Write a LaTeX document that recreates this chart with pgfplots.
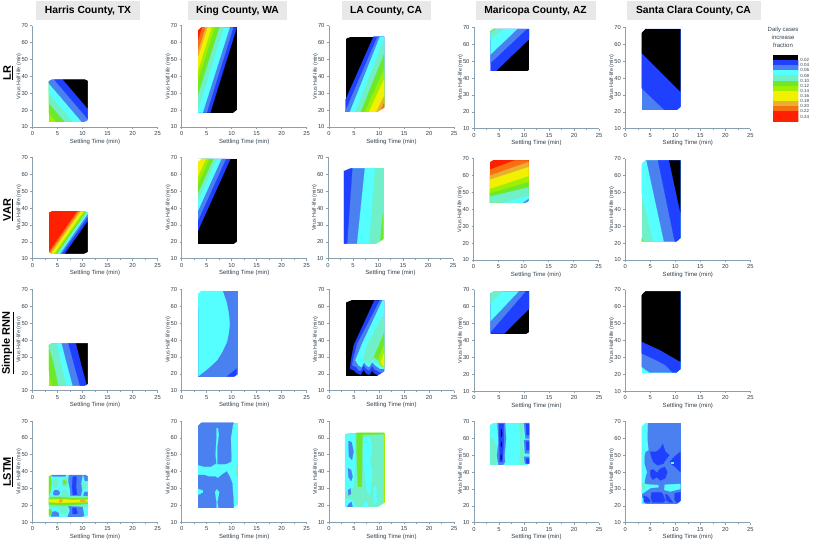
\documentclass[border=0pt]{standalone}
\usepackage{fontspec}
\setmainfont{Liberation Sans}
\usepackage{pgfplots}
\pgfplotsset{compat=1.18}

\definecolor{bl}{HTML}{2040FF}
\definecolor{mb}{HTML}{4A80F0}
\definecolor{cy}{HTML}{55FFFF}
\definecolor{aq}{HTML}{70F0C8}
\definecolor{gr}{HTML}{6FE82A}
\definecolor{li}{HTML}{9CF000}
\definecolor{ye}{HTML}{F2F000}
\definecolor{go}{HTML}{E8B030}
\definecolor{or}{HTML}{F87010}
\definecolor{re}{HTML}{FF2000}
\definecolor{axc}{HTML}{8AA0AE}
\definecolor{txt}{HTML}{33404A}
\definecolor{ttl}{HTML}{E8E8E8}

% one filled contour region, read off the picture in data coordinates
\newcommand\pp[2]{\addplot[fill=#1,draw=#1,line width=.25pt,forget plot] coordinates {#2} --cycle;}
% black regions get no stroke, it would show round the lighter bands on top
\newcommand\pb[1]{\addplot[fill=black,draw=none,forget plot] coordinates {#1} --cycle;}
% white cover: trims the stacked fringes under the domain
\newcommand\pw[1]{\addplot[fill=white,draw=none,forget plot] coordinates {#1} --cycle;}

% cut corners of the sampled domain, per county
\newcommand\chH{%
  \pw{(3,12.3)(11.5,12.3)(11.5,12.95)(3,12.95)}
  \pp{white}{(3.15,37.3)(3.15,38.3)(3.8,38.3)}
  \pp{white}{(10.6,38.3)(11.2,38.3)(11.2,37.3)}
  \pp{white}{(11.2,14)(11.2,12.7)(10.3,12.7)}}
\newcommand\chK{%
  \pw{(3,17.8)(11.5,17.8)(11.5,18.45)(3,18.45)}
  \pp{white}{(3.15,67.3)(3.15,69.3)(3.9,69.3)}
  \pp{white}{(11.2,20.3)(11.2,18.2)(10.3,18.2)}}
\newcommand\chL{%
  \pw{(3,18.3)(11.5,18.3)(11.5,18.95)(3,18.95)}
  \pp{white}{(3.05,62)(3.05,63.8)(4.5,63.8)}
  \pp{white}{(11.2,21.5)(11.2,18.7)(9.7,18.7)}}
\newcommand\chM{%
  \pw{(3,43.3)(11.5,43.3)(11.5,43.95)(3,43.95)}
  \pp{white}{(3.15,68)(3.15,69.3)(3.9,69.3)}
  \pp{white}{(10.5,43.7)(11.2,43.7)(11.2,45)}}
\newcommand\chS{%
  \pw{(3,20.3)(11.5,20.3)(11.5,20.95)(3,20.95)}
  \pp{white}{(3.15,66.8)(3.15,69.3)(4,69.3)}
  \pp{white}{(11.2,23)(11.2,20.7)(10.3,20.7)}}

\pgfplotsset{
  panel/.style={
    scale only axis, width=125pt, height=101.3pt,
    xmin=0, xmax=25, ymin=10, ymax=70,
    xtick={0,5,10,15,20,25}, ytick={10,20,30,40,50,60,70},
    minor x tick num=1,
    axis x line*=bottom, axis y line*=left,
    axis line style={draw=axc,line width=1pt},
    tick style={draw=axc,line width=.6pt},
    tick align=outside, major tick length=2pt, minor tick length=1.2pt,
    tick label style={font=\fontsize{5.8}{6}\selectfont,text=txt},
    /pgf/number format/assume math mode=true,
    xticklabel shift=-1pt, yticklabel shift=-1pt,
    xlabel={Settling Time (min)}, ylabel={Virus Half-life (min)},
    every axis x label/.style={at={(axis description cs:0.5,-0.145)},anchor=center,font=\fontsize{6}{7}\selectfont,text=txt},
    every axis y label/.style={at={(axis description cs:-0.108,0.5)},anchor=center,rotate=90,font=\fontsize{5.4}{6}\selectfont,text=txt},
  },
}

\begin{document}
\begin{tikzpicture}[x=1pt,y=1pt]
\path[use as bounding box] (0,0) rectangle (813,550);

% column headers
\tikzset{hd/.style={fill=ttl,inner sep=0pt,minimum height=19pt,font=\fontsize{10.3}{12}\selectfont\bfseries}}
\node[hd,minimum width=104pt] at (88,539) {Harris County, TX};
\node[hd,minimum width=99pt] at (237.5,539) {King County, WA};
\node[hd,minimum width=89pt] at (386,539) {LA County, CA};
\node[hd,minimum width=120pt] at (535.5,539) {Maricopa County, AZ};
\node[hd,minimum width=134pt] at (693.5,539) {Santa Clara County, CA};

% row headers
\tikzset{rw/.style={rotate=90,inner sep=0pt,font=\fontsize{11}{13}\selectfont\bfseries}}
\node[rw] at (8,477) {\underline{LR}};
\node[rw] at (8,340) {\underline{VAR}};
\node[rw] at (8,207) {\underline{Simple RNN}};
\node[rw] at (8,78) {\underline{LSTM}};

%%%%%%%%%%%%% row 1: LR
\begin{axis}[panel,at={(32.5pt,423pt)}]
\pp{li}{(3.3,13)(11,13)(11,38)(3.3,38)}
\pp{gr}{(3.3,18.2)(3.3,38)(11,38)(11,13)(4.8,13)}
\pp{aq}{(3.3,24.1)(3.3,38)(11,38)(11,13)(6.5,13)}
\pp{cy}{(3.3,30)(3.3,38)(11,38)(11,13)(8.2,13)}
\pp{mb}{(3.3,35.9)(3.3,38)(11,38)(11,13)(9.9,13)}
\pp{bl}{(4.4,38)(11,38)(11,15)}
\pb{(6.1,38)(11,38)(11,21)}
\chH
\end{axis}

\begin{axis}[panel,at={(181.7pt,423pt)}]
\pb{(3.3,18.5)(11,18.5)(11,69)(3.3,69)}
\pp{bl}{(3.3,18.5)(5.7,18.5)(11,69)(3.3,69)}
\pp{mb}{(3.3,18.5)(5.0,18.5)(10.3,69)(3.3,69)}
\pp{cy}{(3.3,18.5)(4.2,18.5)(9.6,69)(3.3,69)}
\pp{aq}{(3.3,21)(8.4,69)(3.3,69)}
\pp{gr}{(3.3,30)(7.5,69)(3.3,69)}
\pp{li}{(3.3,38)(6.6,69)(3.3,69)}
\pp{ye}{(3.3,44)(5.95,69)(3.3,69)}
\pp{go}{(3.3,52)(5.1,69)(3.3,69)}
\pp{or}{(3.3,56)(4.7,69)(3.3,69)}
\pp{re}{(3.3,62)(4.05,69)(3.3,69)}
\chK
\end{axis}

\begin{axis}[panel,at={(329pt,423pt)}]
\pb{(3.3,19)(11,19)(11,63.5)(3.3,63.5)}
\pp{bl}{(3.3,26)(8.9,63.5)(11,63.5)(11,19)(3.3,19)}
\pp{mb}{(3.3,19.5)(9.7,63.5)(11,63.5)(11,19)(3.3,19)}
\pp{cy}{(4.2,19)(10.2,63.5)(11,63.5)(11,19)}
\pp{aq}{(5.3,19)(11,62)(11,19)}
\pp{gr}{(6.4,19)(11,53)(11,19)}
\pp{li}{(7.2,19)(11,44)(11,19)}
\pp{ye}{(8,19)(11,38)(11,19)}
\pp{go}{(9.5,19)(11,28)(11,19)}
\pp{or}{(10.2,19)(11,24)(11,19)}
\chL
\end{axis}

\begin{axis}[panel,at={(474pt,421.3pt)}]
\pb{(3.3,44)(11,44)(11,69)(3.3,69)}
\pp{bl}{(3.3,44)(4.3,44)(11,63)(11,69)(3.3,69)}
\pp{mb}{(3.3,49)(10.5,69)(3.3,69)}
\pp{cy}{(3.3,54)(8.6,69)(3.3,69)}
\pp{aq}{(3.3,63)(5.9,69)(3.3,69)}
\pp{gr}{(3.3,67.5)(4.2,69)(3.3,69)}
\chM
\end{axis}

\begin{axis}[panel,at={(625.3pt,421.3pt)}]
\pp{mb}{(3.3,21)(11,21)(11,69)(3.3,69)}
\pp{bl}{(3.3,34)(7.9,21)(11,21)(11,69)(3.3,69)}
\pb{(3.3,54.7)(11,32)(11,69)(3.3,69)}
\chS
\end{axis}

%%%%%%%%%%%%% row 2: VAR
\begin{axis}[panel,at={(32.5pt,291.3pt)}]
\pp{re}{(3.3,13)(11,13)(11,38)(3.3,38)}
\pp{or}{(3.3,13.9)(8.98,38)(11,38)(11,13)(3.3,13)}
\pp{go}{(3.45,13)(9.33,38)(11,38)(11,13)}
\pp{ye}{(3.8,13)(9.68,38)(11,38)(11,13)}
\pp{li}{(4.4,13)(10.28,38)(11,38)(11,13)}
\pp{gr}{(4.7,13)(10.58,38)(11,38)(11,13)}
\pp{aq}{(5.0,13)(10.88,38)(11,38)(11,13)}
\pp{cy}{(5.3,13)(11,37.2)(11,13)}
\pp{mb}{(5.6,13)(11,36)(11,13)}
\pp{bl}{(6.0,13)(11,34.2)(11,13)}
\pb{(6.5,13)(11,32)(11,13)}
\pp{white}{(3.15,12.7)(3.15,14)(3.7,12.7)}
\chH
\end{axis}

\begin{axis}[panel,at={(181.7pt,291.3pt)}]
\pb{(3.3,18.5)(11,18.5)(11,69)(3.3,69)}
\pp{bl}{(3.3,27)(9.7,69)(3.3,69)}
\pp{mb}{(3.3,33)(8.8,69)(3.3,69)}
\pp{cy}{(3.3,38.8)(7.9,69)(3.3,69)}
\pp{aq}{(3.3,44.7)(7,69)(3.3,69)}
\pp{gr}{(3.3,49.3)(6.3,69)(3.3,69)}
\pp{li}{(3.3,54.6)(5.5,69)(3.3,69)}
\pp{ye}{(3.3,59)(4.8,69)(3.3,69)}
\chK
\end{axis}

\begin{axis}[panel,at={(328pt,291.3pt)}]
\pp{aq}{(3.2,19)(11,19)(11,63.5)(3.2,63.5)}
\pp{gr}{(11,37)(10.4,19)(11,19)}
\pp{cy}{(3.2,19)(8.15,19)(9.35,63.5)(3.2,63.5)}
\pp{mb}{(3.2,19)(5.75,19)(7.3,63.5)(3.2,63.5)}
\pp{bl}{(3.2,19)(3.8,19)(4.85,63.5)(3.2,63.5)}
\chL
\end{axis}

\begin{axis}[panel,at={(473.5pt,290pt)}]
\pp{re}{(3.3,44)(11,44)(11,69)(3.3,69)}
\pp{or}{(3.3,63.5)(8.3,69)(11,69)(11,44)(3.3,44)}
\pp{go}{(3.3,60)(11,68)(11,44)(3.3,44)}
\pp{ye}{(3.3,57.5)(11,65)(11,44)(3.3,44)}
\pp{li}{(3.3,52)(11,59.5)(11,44)(3.3,44)}
\pp{gr}{(3.3,49.5)(11,56)(11,44)(3.3,44)}
\pp{aq}{(3.3,47.5)(11,53)(11,44)(3.3,44)}
\pp{cy}{(6,44)(11,48)(11,44)}
\pp{mb}{(10,44)(11,46)(11,44)}
\chM
\end{axis}

\begin{axis}[panel,at={(625.3pt,290pt)}]
\pp{aq}{(3.3,21)(11,21)(11,69)(3.3,69)}
\pp{gr}{(3.3,21)(3.6,21)(3.3,23)}
\pp{cy}{(3.3,49)(5.6,21)(11,21)(11,69)(3.3,69)}
\pp{mb}{(4.25,69)(7.75,21)(11,21)(11,69)}
\pp{bl}{(6.55,69)(9.9,21)(11,21)(11,69)}
\pb{(8.75,69)(11,38)(11,69)}
\chS
\end{axis}

%%%%%%%%%%%%% row 3: Simple RNN
\begin{axis}[panel,at={(32.5pt,159.3pt)}]
\pp{li}{(3.3,13)(11,13)(11,38)(3.3,38)}
\pp{gr}{(3.3,22)(3.9,13)(11,13)(11,38)(3.3,38)}
\pp{aq}{(3.3,36)(4.3,26)(5.2,13)(11,13)(11,38)(3.3,38)}
\pp{cy}{(4.87,38)(5.7,26)(6.87,13)(11,13)(11,38)}
\pp{mb}{(5.87,38)(6.9,26)(8.07,13)(11,13)(11,38)}
\pp{bl}{(7.2,38)(8.3,26)(9.5,13)(11,13)(11,38)}
\pb{(8.7,38)(9.8,25)(10.9,13)(11,13)(11,38)}
\pw{(3,12.3)(11.5,12.3)(11.5,12.95)(3,12.95)}
\pp{white}{(3.15,37.3)(3.15,38.3)(3.8,38.3)}
\pp{white}{(11.2,14)(11.2,12.7)(10.5,12.7)}
\end{axis}

\begin{axis}[panel,at={(181.7pt,159.3pt)}]
\pp{mb}{(3.3,18.5)(11,18.5)(11,69)(3.3,69)}
\pp{cy}{(8.2,69)(9.0,62)(9.4,55.8)(9.6,49.8)(9.4,44)(9.05,39)(8.1,33)(7.05,28)(5.2,23)(3.35,18.7)(3.3,69)}
\pp{bl}{(9.1,18.5)(11,23)(11,18.5)}
\pp{white}{(3.15,67.3)(3.15,69.3)(3.9,69.3)}
\pp{white}{(11.2,19.5)(11.2,18.2)(10.6,18.2)}
\end{axis}

\begin{axis}[panel,at={(329pt,159.3pt)}]
\pb{(3.3,19)(11,19)(11,63.5)(3.3,63.5)}
\pp{bl}{(9.1,63.5)(5,37.2)(4.4,28)(4.2,23)(5,22)(5.5,20.5)(6.3,19.5)(6.9,22.5)(7.5,20)(8.1,19.5)(8.6,22)(9.2,20)(10,19)(11,19)(11,63.5)}
\pp{mb}{(10.2,63.5)(5.7,38)(4.8,28)(4.7,25)(5.5,24)(5.9,22)(6.4,22)(6.9,25.5)(7.4,23)(8,22)(8.6,25)(9.2,22.5)(10.2,21)(11,21)(11,63.5)}
\pp{cy}{(10.7,63.5)(6.5,37)(5.3,28)(5.9,25)(6.5,24)(7,27)(7.5,25)(8,24)(8.6,27)(9.3,25)(10.2,23)(11,23)(11,63.5)}
\pp{aq}{(11,56)(7.5,36)(6.8,28)(7.5,27)(8,26)(8.6,28.5)(9.3,27)(11,25)}
\pp{gr}{(11,44)(9,30)(9.7,28.5)(11,26)}
\pp{li}{(11,37)(9.9,29)(10.2,25)(11,24)}
\pp{ye}{(11,32)(10.4,27)(10.7,25)(11,24.5)}
\chL
\end{axis}

\begin{axis}[panel,at={(474pt,159pt)}]
\pb{(3.3,44)(11,44)(11,69)(3.3,69)}
\pp{bl}{(3.3,44)(6,44)(11,58.7)(11,69)(3.3,69)}
\pp{mb}{(3.3,45)(10.3,69)(3.3,69)}
\pp{cy}{(3.3,51.5)(8.9,69)(3.3,69)}
\pp{aq}{(3.3,62)(5.7,69)(3.3,69)}
\chM
\end{axis}

\begin{axis}[panel,at={(625.3pt,159pt)}]
\pp{cy}{(3.3,21)(11,21)(11,69)(3.3,69)}
\pp{mb}{(3.3,24.3)(4.9,21)(11,21)(11,69)(3.3,69)}
\pp{bl}{(3.3,32.3)(6.2,28.3)(8,25.5)(9.5,21)(11,21)(11,69)(3.3,69)}
\pb{(3.3,39.2)(6.9,34.3)(11,27.3)(11,69)(3.3,69)}
\chS
\end{axis}

%%%%%%%%%%%%% row 4: LSTM
\begin{axis}[panel,at={(32.5pt,27.7pt)}]
\pp{cy}{(3.3,13)(11,13)(11,38)(3.3,38)}
\pp{aq}{(4.1,35)(4.6,36)(5.1,35)(5.3,33)(5,31)(4.5,30.5)(4,32)}
\pp{aq}{(5.9,35.5)(6.4,36.5)(7,35.5)(7.1,33)(6.8,31)(6.2,31)(5.8,33)}
\pp{aq}{(5.8,28)(6.4,29.5)(7.1,28)(7.2,26)(6,25.5)}
\pp{aq}{(10.1,33)(10.5,34)(10.8,32)(10.6,29.5)(10.1,29.5)(9.9,31)}
\pp{gr}{(3.3,38)(3.6,38)(3.8,33)(3.6,28)(3.3,26)}
\pp{gr}{(6.1,34.5)(6.4,35)(6.8,34)(6.6,32.5)(6.2,32.3)}
\pp{mb}{(7.3,38)(10,38)(9.7,33)(9.9,29)(9.6,25)(7.6,25)(7.5,30)(7.2,34)}
\pp{bl}{(8.1,37)(8.8,37)(8.7,31)(8.9,26.5)(8.1,26)(7.9,31)}
\pp{mb}{(10.2,38)(11,38)(11,34.5)(10.5,34.5)}
\pp{mb}{(10.4,28)(11,28)(11,25.5)(10.5,25)(10.2,26)}
\pp{mb}{(4.4,29)(5.1,29)(5.5,27.5)(5.2,26)(4.6,25.5)(4.1,27)}
\pp{mb}{(3.8,38)(6.7,38)(6.5,37.2)(4,37.2)}
\pp{aq}{(3.3,26)(6,25.7)(11,25.5)(11,19)(7.5,19)(6,18.5)(3.3,19)}
\pp{gr}{(3.3,24.5)(5.5,25)(8,24.3)(11,24.5)(11,21)(6.5,20)(3.3,20.5)}
\pp{ye}{(3.3,23.5)(5.5,23.7)(8,23.2)(11,23.5)(11,22)(8,21.8)(5.5,21.5)(3.3,22)}
\pp{go}{(5.4,23.7)(5.7,24)(6,23.3)(5.9,21.8)(5.5,21.6)(5.3,22.5)}
\pp{go}{(9.5,23.3)(10.5,23.3)(10.6,22.6)(10.5,22.1)(9.5,22.1)}
\pp{mb}{(7.2,19.5)(10,19)(10.3,14)(9.6,13)(7,13)(7.5,17)}
\pp{bl}{(8,18.5)(8.7,18.5)(9,15.5)(8.5,14.8)(8,15.2)}
\pp{mb}{(3.9,16)(4.6,16.5)(5.2,15.5)(5.3,13.5)(3.7,13.5)}
\pp{gr}{(3.3,18)(3.8,17.5)(3.9,15)(3.3,14)}
\pp{aq}{(5.6,18.2)(6.9,18.2)(7,16)(6.5,15)(5.6,15.5)}
\chH
\end{axis}

\begin{axis}[panel,at={(181.7pt,27.7pt)}]
\pp{cy}{(3.3,18.5)(11,18.5)(11,69)(3.3,69)}
\pp{mb}{(3.3,67)(3.9,69)(10.4,69)(10.2,67.5)(9.8,60)(9.9,50)(9.9,46)(8.8,44.5)(7.2,44.5)(7.2,55)(7.5,62)(7.3,66)(6.9,66)(6.9,60)(6.7,50)(6.9,45)(5.8,43)(4.5,43)(3.3,44)}
\pp{mb}{(3.3,38)(4.5,38)(5.5,37)(6.8,37)(7.2,36)(8,38)(9,40)(9.6,37)(10.1,33)(10.3,25)(10.4,18.5)(7.4,18.5)(7.2,22)(7.6,28)(7,30)(6.6,28)(6.9,22)(6.9,18.5)(3.3,18.5)(3.3,26)(4.3,27.5)(4.3,29)(3.3,30)}
\pp{aq}{(10.9,38)(11,38)(11,44)(10.9,44)}
\chK
\end{axis}

\begin{axis}[panel,at={(329pt,27.7pt)}]
\pp{aq}{(3.2,19)(11,19)(11,63)(3.2,63)}
\pp{cy}{(3.2,61)(4.2,63)(5.2,62)(5.3,50)(5.1,38)(5,32)(4.4,28)(3.2,28)}
\pp{cy}{(3.2,19)(5.2,19)(5,22)(4.2,24)(3.2,24)}
\pp{mb}{(3.9,58)(4.5,57.5)(4.9,52)(4.6,47)(4,49)}
\pp{mb}{(3.8,42)(4.4,41)(4.7,37)(4.4,34.5)(3.9,37)}
\pp{mb}{(3.6,19)(4.7,19)(4.5,22)(4,21)}
\pp{mb}{(3.8,29)(4.3,30)(4.4,27)(3.9,26)}
\pp{gr}{(5.5,63)(11,63)(11,62.3)(6.7,61.8)(6.6,55)(6.6,40)(6.5,31)(5.8,31)(5.6,45)(5.5,55)}
\pp{li}{(10.95,22)(11,22)(11,62)(10.95,62)}
\pp{cy}{(6.9,60)(8.2,60.5)(8.6,55)(8.2,45)(8.7,40)(8.4,32)(8.2,26)(7.6,28)(7.3,35)(6.9,45)}
\pp{cy}{(6.8,19)(7.8,19)(7.6,22)(7.1,22)}
\pp{cy}{(8.9,31)(9.4,31)(9.6,22)(9,21)}
\chL
\end{axis}

\begin{axis}[panel,at={(474pt,27.3pt)}]
\pp{cy}{(3.3,44)(11,44)(11,69)(3.3,69)}
\pp{aq}{(3.3,44)(4.5,44)(4.4,56)(3.8,60)(3.3,60)}
\pp{aq}{(9.1,69)(9.8,69)(9.6,60)(9.9,50)(9.9,44)(9.1,44)(9.3,55)}
\pp{mb}{(4.7,69)(6.2,69)(6.4,60)(6.1,50)(6.2,46)(5.7,44)(4.9,44)(4.6,50)(4.9,58)}
\pp{bl}{(5,68.5)(5.9,68.5)(5.9,63)(5.9,57)(5.8,52)(5.7,46)(5.1,46)(5.1,55)(5,62)}
\pb{(5.35,65)(5.5,65.5)(5.65,63)(5.5,60.5)(5.35,61.5)}
\pb{(5.35,57.5)(5.5,58)(5.6,56.5)(5.5,54.8)(5.35,55.5)}
\pb{(5.3,50)(5.45,50.5)(5.55,48.5)(5.45,47)(5.3,47.5)}
\pp{mb}{(10,69)(11,69)(11,60)(10.3,60)}
\pp{mb}{(10,59)(11,59)(11,51)(10.2,51)}
\pp{mb}{(10,49)(11,49)(11,45)(10.2,45)}
\pp{bl}{(10.4,68.5)(11,68.5)(11,62)(10.5,62)}
\pp{bl}{(10.4,58)(11,58)(11,53)(10.5,53)}
\pp{bl}{(10.4,48)(11,48)(11,45)(10.5,45)}
\chM
\end{axis}

\begin{axis}[panel,at={(625.3pt,27.3pt)}]
\pp{mb}{(3.3,21)(11,21)(11,69)(3.3,69)}
\pp{cy}{(3.3,67)(4,69)(4.5,69)(4.4,60)(4.6,53)(4,52)(3.8,49)(3.8,45)(4.3,40)(4,37)(3.8,33)(5,32.5)(6.6,32.3)(6.6,31)(5,30.5)(3.3,27)}
\pp{cy}{(7.9,32.5)(11,33)(11,30)(9,28.5)(7.8,29.5)}
\pp{cy}{(3.3,21)(4,21)(3.7,24)(3.3,25)}
\pp{bl}{(5,52)(6.2,52)(7,54)(7.5,56.5)(8,52)(8.8,50)(8,47)(7.6,45)(6.5,44)(5.6,46)(5.2,49)}
\pp{bl}{(8.9,46)(9.8,49)(11,52)(11,40)(10,43)(9.3,44.5)}
\pp{cy}{(9.2,46)(9.6,46)(9.6,45)(9.2,45)}
\pp{bl}{(5,41)(5.6,41.5)(6.3,39.5)(7,42)(7.9,43)(8.4,40)(8,36.5)(7,35)(6.3,37)(5.5,35.5)(5,38)}
\pp{bl}{(3.7,26)(4.5,25)(5,23)(4.8,22)(3.7,22)}
\pp{bl}{(5.3,28)(7,28)(7.5,27)(8,23)(7.5,22)(5.4,22)(5.1,25)}
\pp{bl}{(8,27)(8.6,26)(9,24)(9.5,22)(8.8,22)(8.2,23.5)}
\pp{bl}{(9.9,27.5)(11,28)(11,22)(10.2,22)(9.8,24)}
\pp{aq}{(3.4,33.5)(4,33)(3.8,30.5)(3.4,30)}
\chS
\end{axis}

%%%%%%%%%%%%% colour key
\node[align=center,font=\fontsize{6}{8.3}\selectfont,text=txt] at (783,512.5) {Daily cases\\increase\\fraction};
\begin{axis}[scale only axis, width=25.6pt, height=66.7pt,
    at={(772.7pt,428.3pt)},
    xmin=0, xmax=1, ymin=0, ymax=0.26, y dir=reverse,
    xtick=\empty,
    ytick={0.02,0.04,0.06,0.08,0.10,0.12,0.14,0.16,0.18,0.20,0.22,0.24},
    yticklabel pos=right,
    axis line style={draw=none}, major tick length=0pt,
    yticklabel style={font=\fontsize{4.5}{5}\selectfont,text=txt,
      /pgf/number format/fixed,/pgf/number format/fixed zerofill,/pgf/number format/precision=2},
    /pgf/number format/assume math mode=true,
    yticklabel shift=-1.5pt,
  ]
\pb{(0,0)(1,0)(1,0.02)(0,0.02)}
\pp{bl}{(0,0.02)(1,0.02)(1,0.04)(0,0.04)}
\pp{mb}{(0,0.04)(1,0.04)(1,0.06)(0,0.06)}
\pp{cy}{(0,0.06)(1,0.06)(1,0.08)(0,0.08)}
\pp{aq}{(0,0.08)(1,0.08)(1,0.10)(0,0.10)}
\pp{gr}{(0,0.10)(1,0.10)(1,0.12)(0,0.12)}
\pp{li}{(0,0.12)(1,0.12)(1,0.14)(0,0.14)}
\pp{ye}{(0,0.14)(1,0.14)(1,0.18)(0,0.18)}
\pp{go}{(0,0.18)(1,0.18)(1,0.20)(0,0.20)}
\pp{or}{(0,0.20)(1,0.20)(1,0.22)(0,0.22)}
\pp{re}{(0,0.22)(1,0.22)(1,0.26)(0,0.26)}
\end{axis}
\end{tikzpicture}
\end{document}
